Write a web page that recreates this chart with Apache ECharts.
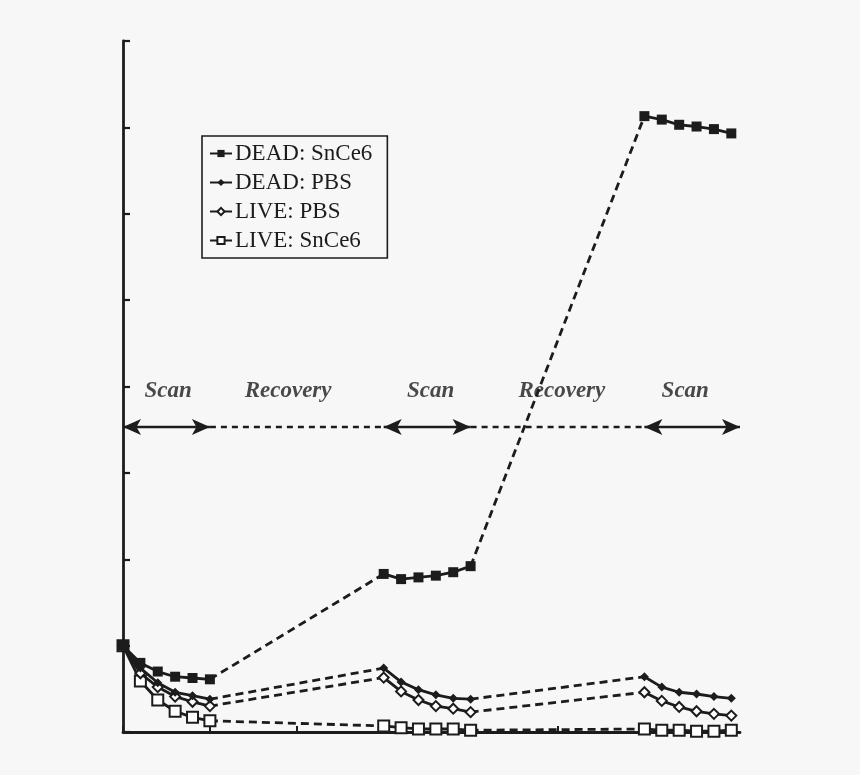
<!DOCTYPE html>
<html>
<head>
<meta charset="utf-8">
<script src="https://cdn.jsdelivr.net/npm/echarts@6/dist/echarts.min.js"></script>
<style>
html,body{margin:0;padding:0;background:#f7f7f7;}
#chart{width:860px;height:775px;}
</style>
</head>
<body>
<div id="chart"></div>
<script>
// ---- data ----
const scan1Times = [0, 0.2, 0.4, 0.6, 0.8, 1.0];
const scan2Times = [3, 3.2, 3.4, 3.6, 3.8, 4.0];
const scan3Times = [6, 6.2, 6.4, 6.6, 6.8, 7.0];

const deadSnCe6Scan1 = [1.0, 0.80, 0.70, 0.64, 0.625, 0.61];
const deadSnCe6Scan2 = [1.83, 1.77, 1.79, 1.81, 1.85, 1.92];
const deadSnCe6Scan3 = [7.13, 7.09, 7.03, 7.01, 6.98, 6.93];

const deadPBSScan1 = [1.0, 0.74, 0.57, 0.46, 0.42, 0.38];
const deadPBSScan2 = [0.74, 0.58, 0.49, 0.43, 0.39, 0.38];
const deadPBSScan3 = [0.64, 0.52, 0.46, 0.44, 0.41, 0.39];

const livePBSScan1 = [1.0, 0.68, 0.52, 0.41, 0.35, 0.30];
const livePBSScan2 = [0.63, 0.47, 0.37, 0.30, 0.27, 0.23];
const livePBSScan3 = [0.46, 0.36, 0.29, 0.24, 0.21, 0.19];

const liveSnCe6Scan1 = [1.0, 0.59, 0.37, 0.24, 0.17, 0.13];
const liveSnCe6Scan2 = [0.07, 0.05, 0.035, 0.035, 0.035, 0.02];
const liveSnCe6Scan3 = [0.035, 0.02, 0.02, 0.01, 0.01, 0.02];

const phaseLabels = ['Scan', 'Recovery', 'Scan', 'Recovery', 'Scan'];
const phaseLabelX = [0.52, 1.90, 3.54, 5.05, 6.47];
const phaseLabelY = 3.95;
const phaseArrowY = 3.53;
const scanSpans = [[0, 1], [3, 4], [6, 7.1]];
const recoverySpans = [[1, 3], [4, 6]];

const xTicks = [0, 1, 2, 3, 4, 5, 6, 7];

// ---- build ----
const INK = '#1c1c1c';
const scanTimes = [scan1Times, scan2Times, scan3Times];
const groups = [
  {name: 'DEAD: SnCe6', scans: [deadSnCe6Scan1, deadSnCe6Scan2, deadSnCe6Scan3],
   symbol: 'rect', size: 10, fill: INK},
  {name: 'DEAD: PBS', scans: [deadPBSScan1, deadPBSScan2, deadPBSScan3],
   symbol: 'diamond', size: 9, fill: INK},
  {name: 'LIVE: PBS', scans: [livePBSScan1, livePBSScan2, livePBSScan3],
   symbol: 'diamond', size: 10, fill: '#ffffff'},
  {name: 'LIVE: SnCe6', scans: [liveSnCe6Scan1, liveSnCe6Scan2, liveSnCe6Scan3],
   symbol: 'rect', size: 11, fill: '#ffffff'}
];

const series = [];
groups.forEach(g => {
  for (let i = 0; i < 2; i++) {
    const a = g.scans[i], b = g.scans[i + 1];
    const ta = scanTimes[i], tb = scanTimes[i + 1];
    series.push({
      type: 'line', name: g.name + ' recovery',
      data: [[ta[ta.length - 1], a[a.length - 1]], [tb[0], b[0]]],
      symbol: 'none', silent: true, animation: false, z: 2,
      lineStyle: {color: INK, width: 2.8, type: [8, 5]}
    });
  }
});
groups.slice().reverse().forEach((g, gi) => {
  g.scans.forEach((vals, i) => {
    series.push({
      type: 'line', name: g.name,
      data: vals.map((v, k) => [scanTimes[i][k], v]),
      symbol: g.symbol, symbolSize: g.size, showSymbol: true,
      animation: false, z: 3 + gi,
      lineStyle: {color: INK, width: 2.8},
      itemStyle: {color: g.fill, borderColor: INK, borderWidth: g.fill === INK ? 0 : 2}
    });
  });
});

series.push({
  type: 'line', name: 'arrows', data: [], silent: true, animation: false, z: 1,
  markLine: {
    silent: true, animation: false,
    symbol: ['arrow', 'arrow'], symbolSize: [12, 18],
    label: {show: false},
    lineStyle: {color: INK, width: 2.4, type: 'solid'},
    data: scanSpans.map(s => [{coord: [s[0], phaseArrowY]}, {coord: [s[1], phaseArrowY]}])
  }
});
series.push({
  type: 'line', name: 'recovery arrows', data: [], silent: true, animation: false, z: 1,
  markLine: {
    silent: true, animation: false,
    symbol: ['none', 'none'],
    label: {show: false},
    lineStyle: {color: INK, width: 2.4, type: [6, 5]},
    data: recoverySpans.map(s => [{coord: [s[0], phaseArrowY]}, {coord: [s[1], phaseArrowY]}])
  }
});
series.push({
  type: 'scatter', name: 'phase labels', silent: true, animation: false, z: 1,
  symbolSize: 0,
  data: phaseLabels.map((t, i) => [phaseLabelX[i], phaseLabelY, t]),
  label: {
    show: true, position: [0, 0], align: 'center', verticalAlign: 'middle',
    formatter: p => p.data[2],
    fontFamily: 'Liberation Serif', fontStyle: 'italic', fontWeight: 'bold',
    fontSize: 23, color: INK
  }
});

const chart = echarts.init(document.getElementById('chart'), null, {renderer: 'canvas'});
chart.setOption({
  backgroundColor: '#f7f7f7',
  animation: false,
  grid: {left: 123, top: 41, bottom: 43, right: 120, containLabel: false},
  xAxis: {
    type: 'value', min: 0, max: 7.1, interval: 1,
    axisLine: {lineStyle: {color: INK, width: 2.8}},
    axisTick: {show: true, inside: true, length: 6, customValues: xTicks,
               lineStyle: {color: INK, width: 2}},
    axisLabel: {show: false},
    splitLine: {show: false}
  },
  yAxis: {
    type: 'value', min: 0, max: 8, interval: 1,
    axisLine: {show: true, lineStyle: {color: INK, width: 2.8}},
    axisTick: {show: true, inside: true, length: 7, lineStyle: {color: INK, width: 2.2}},
    axisLabel: {show: false},
    splitLine: {show: false}
  },
  legend: {
    data: groups.map(g => g.name),
    orient: 'vertical',
    left: 202, top: 136,
    padding: [6, 15, 6, 7],
    itemGap: 6, itemWidth: 22, itemHeight: 9,
    borderColor: INK, borderWidth: 1.6,
    backgroundColor: '#f7f7f7',
    selectedMode: false,
    textStyle: {fontFamily: 'Liberation Serif', fontSize: 23, lineHeight: 23, color: INK, padding: [0, 0, 0, -2]}
  },
  series: series
});
</script>
</body>
</html>
